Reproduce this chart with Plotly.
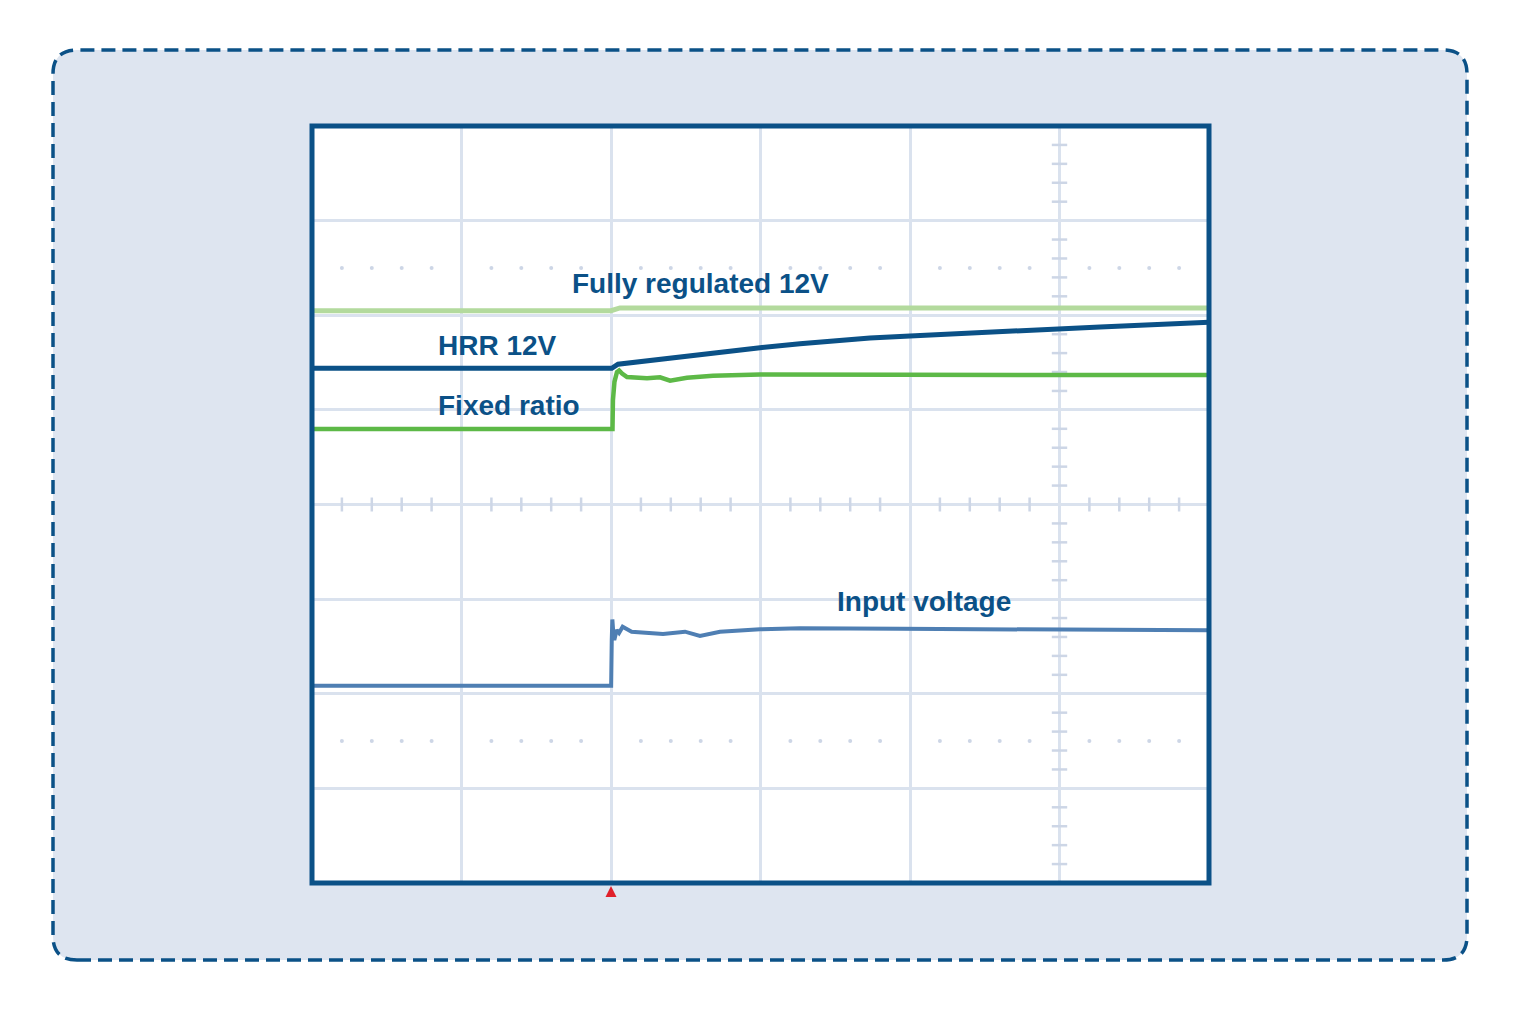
import plotly.graph_objects as go

# ---- data (time and amplitude in screen divisions) ----
reg_t = [0, 2.0, 2.06, 6.0]
reg_v = [6.048, 6.048, 6.077, 6.077]

hrr_t = [0, 2.005, 2.047, 2.328, 2.595, 2.997, 3.264, 3.485, 3.732, 4.0, 4.334, 4.736, 5.271, 6.0]
hrr_v = [5.439, 5.439, 5.482, 5.535, 5.587, 5.657, 5.699, 5.731, 5.760, 5.781, 5.808, 5.837, 5.876, 5.927]

fix_t = [0, 2.010, 2.013, 2.023, 2.040, 2.054, 2.074, 2.107, 2.241, 2.328, 2.395, 2.508, 2.682, 2.997, 3.933, 4.997, 6.0]
fix_v = [4.798, 4.798, 5.104, 5.295, 5.400, 5.416, 5.384, 5.347, 5.334, 5.344, 5.308, 5.340, 5.361, 5.374, 5.371, 5.366, 5.368]

vin_t = [0, 2.001, 2.005, 2.009, 2.015, 2.022, 2.038, 2.054, 2.078, 2.138, 2.348, 2.495, 2.595, 2.729, 2.997, 3.264, 3.933, 4.997, 6.0]
vin_v = [2.085, 2.085, 2.568, 2.785, 2.653, 2.568, 2.674, 2.642, 2.709, 2.656, 2.631, 2.656, 2.610, 2.656, 2.681, 2.692, 2.686, 2.676, 2.671]

labels = ["Fully regulated 12V", "HRR 12V", "Fixed ratio", "Input voltage"]
label_x = [1.726, 0.829, 0.829, 3.498]
label_y = [6.34, 5.685, 5.05, 2.98]

trigger_t = [2.0]

X_DIV, Y_DIV = 6, 8

NAVY = "#0b5187"
GRID = "#dae2ee"
TICKC = "#cdd6e6"

# page body adds an 8px offset; work in figure pixels
OFF = 8
W, H = 1520 - OFF, 1013 - OFF
L, R, T, B = 312 - OFF, 1209 - OFF, 126 - OFF, 883 - OFF
pw, ph = R - L, B - T
def px(x): return (x - OFF - L) / pw
def py(y): return (B - (y - OFF)) / ph

fig = go.Figure()

# graticule decorations: dotted rows, tick marks on centre line and on x=5 line
sub = [i / 5 for i in range(1, X_DIV * 5) if i % 5 != 0]
for yr in (6.5, 1.5):
    fig.add_trace(go.Scatter(x=sub, y=[yr] * len(sub), mode="markers",
                             marker=dict(symbol="circle", size=4, color=TICKC),
                             hoverinfo="skip", showlegend=False))
fig.add_trace(go.Scatter(x=sub, y=[4] * len(sub), mode="markers",
                         marker=dict(symbol="line-ns", size=10, line=dict(width=2.5, color=TICKC)),
                         hoverinfo="skip", showlegend=False))
suby = [i / 5 for i in range(1, Y_DIV * 5) if i % 5 != 0]
fig.add_trace(go.Scatter(x=[5] * len(suby), y=suby, mode="markers",
                         marker=dict(symbol="line-ew", size=11, line=dict(width=2.5, color=TICKC)),
                         hoverinfo="skip", showlegend=False))

# waveforms
fig.add_trace(go.Scatter(x=reg_t, y=reg_v, mode="lines", line=dict(color="#b3da9d", width=5),
                         showlegend=False))
fig.add_trace(go.Scatter(x=vin_t, y=vin_v, mode="lines", line=dict(color="#4f7fb3", width=4),
                         showlegend=False))
fig.add_trace(go.Scatter(x=fix_t, y=fix_v, mode="lines", line=dict(color="#5db947", width=4.5),
                         showlegend=False))
fig.add_trace(go.Scatter(x=hrr_t, y=hrr_v, mode="lines", line=dict(color=NAVY, width=5),
                         showlegend=False))

for txt, lx, ly in zip(labels, label_x, label_y):
    fig.add_annotation(x=lx, y=ly, text=txt, showarrow=False, xanchor="left", yanchor="middle",
                       font=dict(family="Liberation Sans, Arial, sans-serif", size=28,
                                 color=NAVY, weight="bold"))

# outer rounded dashed panel (paper coords)
x0, x1, y0, y1 = px(53), px(1467), py(960), py(50)
rx, ry = 24 / pw, 24 / ph
path = (f"M {x0+rx},{y0} L {x1-rx},{y0} Q {x1},{y0} {x1},{y0+ry} "
        f"L {x1},{y1-ry} Q {x1},{y1} {x1-rx},{y1} L {x0+rx},{y1} Q {x0},{y1} {x0},{y1-ry} "
        f"L {x0},{y0+ry} Q {x0},{y0} {x0+rx},{y0} Z")
fig.add_shape(type="path", path=path, xref="paper", yref="paper", layer="below",
              fillcolor="#dee5f0", line=dict(color=NAVY, width=3.5, dash="14px,7px"))
fig.add_shape(type="rect", xref="paper", yref="paper", x0=0, x1=1, y0=0, y1=1, layer="below",
              fillcolor="white", line=dict(width=0))
fig.add_shape(type="rect", xref="paper", yref="paper", x0=0, x1=1, y0=0, y1=1, layer="above",
              fillcolor="rgba(0,0,0,0)", line=dict(color=NAVY, width=5))

# trigger marker (red triangle under the frame at trigger time)
half = 5.5 / pw * X_DIV
for tt in trigger_t:
    fig.add_shape(type="path", xref="x", yref="paper", layer="above",
                  path=f"M {tt},{py(886)} L {tt+half},{py(897)} L {tt-half},{py(897)} Z",
                  fillcolor="#e0202a", line=dict(width=0))

axis_common = dict(showticklabels=False, zeroline=False, showline=False, ticks="",
                   showgrid=True, gridcolor=GRID, gridwidth=3, dtick=1, tick0=0, fixedrange=True)
fig.update_xaxes(range=[0, X_DIV], **axis_common)
fig.update_yaxes(range=[0, Y_DIV], **axis_common)

fig.update_layout(width=W, height=H, margin=dict(l=L, r=W - R, t=T, b=H - B),
                  paper_bgcolor="white", plot_bgcolor="rgba(0,0,0,0)", showlegend=False)

fig.write_html("out.html")
